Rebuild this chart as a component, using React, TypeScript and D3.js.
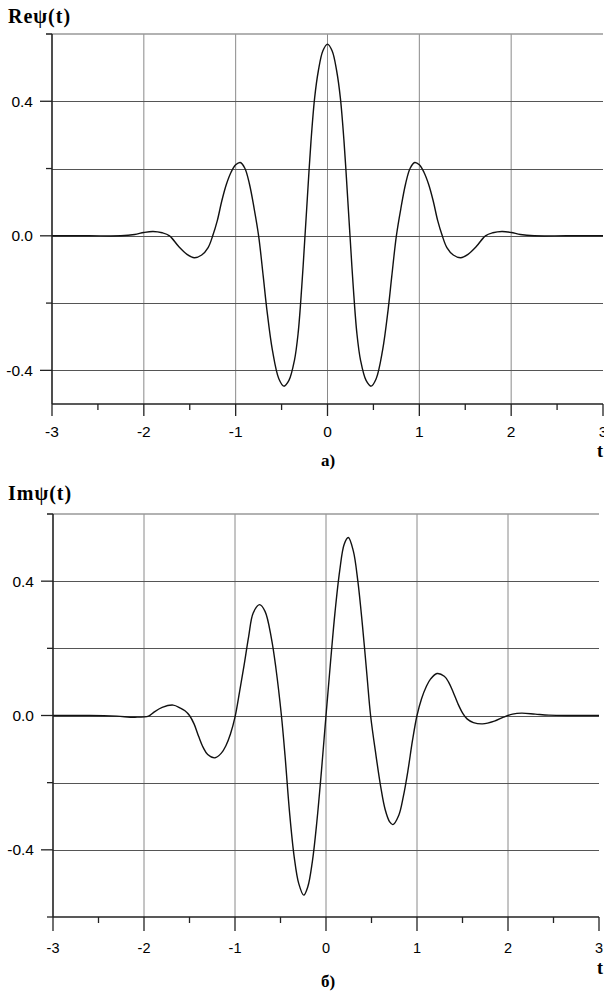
import React, { useEffect, useRef } from 'react';
import * as d3 from 'd3';

// Re psi(t)
const reTimes = [
  -3, -2.6, -2.25, -2.1, -2.0, -1.9, -1.8, -1.72, -1.62, -1.53, -1.45, -1.37, -1.3, -1.25, -1.2, -1.15,
  -1.1, -1.05, -1.0, -0.95, -0.9, -0.85, -0.8, -0.75, -0.7, -0.66, -0.6, -0.53, -0.475, -0.42, -0.36,
  -0.32, -0.28, -0.245, -0.22, -0.18, -0.14, -0.1, -0.05, 0, 0.05, 0.1, 0.14, 0.18, 0.22, 0.245, 0.28,
  0.32, 0.36, 0.42, 0.475, 0.53, 0.6, 0.66, 0.7, 0.75, 0.8, 0.85, 0.9, 0.95, 1.0, 1.05, 1.1, 1.15,
  1.2, 1.25, 1.3, 1.37, 1.45, 1.53, 1.62, 1.72, 1.8, 1.9, 2.0, 2.1, 2.25, 2.6, 3,
];
const reValues = [
  0, 0, 0, 0.004, 0.01, 0.013, 0.009, 0, -0.032, -0.055, -0.065, -0.057, -0.035, 0, 0.045, 0.105,
  0.154, 0.189, 0.211, 0.218, 0.201, 0.154, 0.083, 0, -0.12, -0.22, -0.34, -0.425, -0.447, -0.43, -0.37,
  -0.29, -0.15, 0, 0.11, 0.28, 0.41, 0.49, 0.55, 0.57, 0.55, 0.49, 0.41, 0.28, 0.11, 0, -0.15,
  -0.29, -0.37, -0.43, -0.447, -0.425, -0.34, -0.22, -0.12, 0, 0.083, 0.154, 0.201, 0.218, 0.211, 0.189, 0.154, 0.105,
  0.045, 0, -0.035, -0.057, -0.065, -0.055, -0.032, 0, 0.009, 0.013, 0.01, 0.004, 0, 0, 0,
];

// Im psi(t)
const imTimes = [
  -3, -2.6, -2.3, -2.1, -1.95, -1.9, -1.8, -1.68, -1.6, -1.55, -1.5, -1.45, -1.4, -1.35, -1.3, -1.22, -1.15,
  -1.1, -1.05, -1.0, -0.95, -0.9, -0.85, -0.8, -0.73, -0.67, -0.6, -0.55, -0.49, -0.45, -0.4, -0.35,
  -0.3, -0.245, -0.2, -0.15, -0.1, -0.05, 0, 0.05, 0.1, 0.15, 0.2, 0.245, 0.3, 0.35, 0.4, 0.45, 0.49,
  0.55, 0.6, 0.65, 0.7, 0.735, 0.8, 0.85, 0.9, 0.95, 1.0, 1.05, 1.1, 1.15, 1.22, 1.3, 1.35, 1.4,
  1.45, 1.5, 1.55, 1.62, 1.72, 1.85, 1.95, 2.05, 2.15, 2.3, 2.45, 2.7, 3,
];
const imValues = [
  0, 0, -0.002, -0.005, -0.002, 0.008, 0.024, 0.031, 0.022, 0.014, 0, -0.025, -0.062, -0.095, -0.116, -0.126, -0.112,
  -0.09, -0.055, -0.005, 0.07, 0.15, 0.235, 0.305, 0.33, 0.31, 0.23, 0.14, 0, -0.12, -0.29, -0.42,
  -0.5, -0.535, -0.51, -0.435, -0.315, -0.165, 0, 0.16, 0.31, 0.43, 0.51, 0.53, 0.49, 0.4, 0.27, 0.12, 0,
  -0.12, -0.21, -0.28, -0.317, -0.325, -0.297, -0.241, -0.165, -0.075, 0, 0.05, 0.085, 0.109, 0.125, 0.117, 0.098, 0.068,
  0.035, 0.008, -0.01, -0.021, -0.025, -0.017, -0.005, 0.004, 0.007, 0.004, 0.001, 0, 0,
];

const xTicks = [-3, -2, -1, 0, 1, 2, 3];
const xTickLabels = ['-3', '-2', '-1', '0', '1', '2', '3'];
const xMinorTicks = [-2.5, -1.5, -0.5, 0.5, 1.5, 2.5];
const yTicks = [0.4, 0.0, -0.4];
const yTickLabels = ['0.4', '0.0', '-0.4'];
const yMinorTicks = [-0.6, -0.2, 0.2, 0.6];
const yGrid = [-0.4, -0.2, 0, 0.2, 0.4];

const panels = [
  {
    times: reTimes, values: reValues, title: 'Reψ(t)', caption: 'а)',
    x0: 52, x1: 603, y0: 404, y1: 34, domain: [-0.5, 0.6],
    titleY: 23, captionY: 466, tY: 457, labelDy: 33, majorLen: 12, fontSize: 15.5,
  },
  {
    times: imTimes, values: imValues, title: 'Imψ(t)', caption: 'б)',
    x0: 53, x1: 599, y0: 917, y1: 514, domain: [-0.6, 0.6],
    titleY: 500, captionY: 987, tY: 974, labelDy: 36, majorLen: 14, fontSize: 14.5,
  },
];

const App = () => {
  const ref = useRef<SVGSVGElement>(null);

  useEffect(() => {
    const svg = d3.select(ref.current);
    svg.selectAll('*').remove();

    panels.forEach((p) => {
      const x = d3.scaleLinear().domain([-3, 3]).range([p.x0, p.x1]);
      const y = d3.scaleLinear().domain(p.domain).range([p.y0, p.y1]);
      const g = svg.append('g');
      const inDomain = (v: number) => v >= p.domain[0] - 1e-9 && v <= p.domain[1] + 1e-9;

      // grid
      [-2, -1, 0, 1, 2].forEach((t) => {
        g.append('line')
          .attr('x1', x(t)).attr('x2', x(t))
          .attr('y1', y(p.domain[1])).attr('y2', y(p.domain[0]))
          .style('stroke', '#8a8a8a').style('stroke-width', 1);
      });
      yGrid.filter(inDomain).forEach((v) => {
        g.append('line')
          .attr('x1', x(-3)).attr('x2', x(3))
          .attr('y1', Math.round(y(v)) + 0.5).attr('y2', Math.round(y(v)) + 0.5)
          .style('stroke', '#555').style('stroke-width', 1);
      });
      // top edge
      g.append('line')
        .attr('x1', x(-3) - 6).attr('x2', x(3))
        .attr('y1', y(0.6)).attr('y2', y(0.6))
        .style('stroke', '#999').style('stroke-width', 1.5);

      // curve
      const line = d3.line<number>()
        .x((d, i) => x(p.times[i]))
        .y((d) => y(d))
        .curve(d3.curveCatmullRom.alpha(0.5));
      g.append('path')
        .attr('d', line(p.values))
        .style('fill', 'none')
        .style('stroke', '#111')
        .style('stroke-width', 1.4);

      // axes
      g.append('line')
        .attr('x1', x(-3)).attr('x2', x(-3))
        .attr('y1', y(p.domain[1])).attr('y2', y(p.domain[0]))
        .style('stroke', '#222').style('stroke-width', 1.6);
      g.append('line')
        .attr('x1', x(-3)).attr('x2', x(3))
        .attr('y1', y(p.domain[0])).attr('y2', y(p.domain[0]))
        .style('stroke', '#222').style('stroke-width', 1.6);

      xTicks.forEach((t, i) => {
        g.append('line')
          .attr('x1', x(t)).attr('x2', x(t))
          .attr('y1', y(p.domain[0])).attr('y2', y(p.domain[0]) + p.majorLen)
          .style('stroke', '#222').style('stroke-width', 1.3);
        g.append('text')
          .attr('x', x(t)).attr('y', y(p.domain[0]) + p.labelDy)
          .attr('text-anchor', 'middle')
          .style('font-family', 'Liberation Sans, Arial, sans-serif')
          .style('font-size', p.fontSize + 'px')
          .text(xTickLabels[i]);
      });
      xMinorTicks.forEach((t) => {
        g.append('line')
          .attr('x1', x(t)).attr('x2', x(t))
          .attr('y1', y(p.domain[0])).attr('y2', y(p.domain[0]) + 6)
          .style('stroke', '#222').style('stroke-width', 1.3);
      });
      yTicks.forEach((v, i) => {
        g.append('line')
          .attr('x1', x(-3) - 12).attr('x2', x(-3))
          .attr('y1', y(v)).attr('y2', y(v))
          .style('stroke', '#222').style('stroke-width', 1.3);
        g.append('text')
          .attr('x', x(-3) - 19).attr('y', y(v))
          .attr('dy', '0.35em')
          .attr('text-anchor', 'end')
          .style('font-family', 'Liberation Sans, Arial, sans-serif')
          .style('font-size', '15.5px')
          .text(yTickLabels[i]);
      });
      yMinorTicks.filter(inDomain).forEach((v) => {
        g.append('line')
          .attr('x1', x(-3) - 6).attr('x2', x(-3))
          .attr('y1', y(v)).attr('y2', y(v))
          .style('stroke', '#222').style('stroke-width', 1.3);
      });

      // labels
      g.append('text')
        .attr('x', 8).attr('y', p.titleY)
        .style('font-family', 'Liberation Serif, Times New Roman, serif')
        .style('font-weight', 'bold')
        .style('font-size', '20px')
        .style('letter-spacing', '1px')
        .text(p.title);
      g.append('text')
        .attr('x', 328).attr('y', p.captionY)
        .attr('text-anchor', 'middle')
        .style('font-family', 'Liberation Serif, Times New Roman, serif')
        .style('font-weight', 'bold')
        .style('font-size', '17px')
        .text(p.caption);
      g.append('text')
        .attr('x', 597).attr('y', p.tY)
        .style('font-family', 'Liberation Serif, Times New Roman, serif')
        .style('font-weight', 'bold')
        .style('font-size', '18px')
        .text('t');
    });
  }, []);

  return (
    <svg
      ref={ref}
      width={604}
      height={997}
      style={{ position: 'absolute', left: 0, top: 0, background: '#fff' }}
    />
  );
};

export default App;
